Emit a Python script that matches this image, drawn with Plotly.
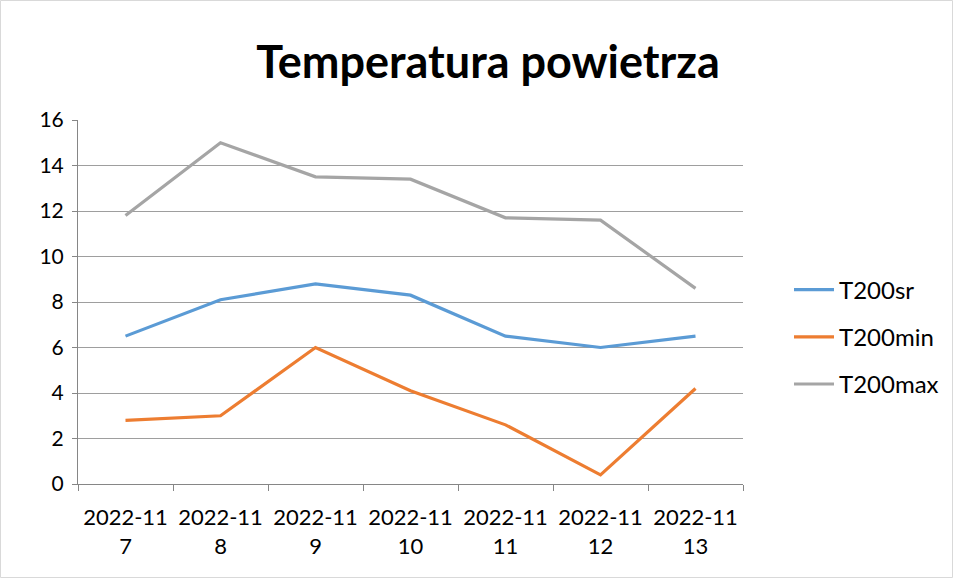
import plotly.graph_objects as go

dates = ["2022-11<br>7", "2022-11<br>8", "2022-11<br>9", "2022-11<br>10",
         "2022-11<br>11", "2022-11<br>12", "2022-11<br>13"]
t200sr = [6.5, 8.1, 8.8, 8.3, 6.5, 6.0, 6.5]
t200min = [2.8, 3.0, 6.0, 4.1, 2.6, 0.4, 4.2]
t200max = [11.8, 15.0, 13.5, 13.4, 11.7, 11.6, 8.6]
y_ticks = [0, 2, 4, 6, 8, 10, 12, 14, 16]

FONT = "Lato, 'Noto Sans', sans-serif"

fig = go.Figure()
series = [("T200sr", t200sr, "#5B9BD5"),
          ("T200min", t200min, "#ED7D31"),
          ("T200max", t200max, "#A5A5A5")]
for name, vals, col in series:
    fig.add_trace(go.Scatter(x=dates, y=vals, name=name, mode="lines",
                             legendgroup=name,
                             line=dict(color=col, width=3.2)))

W, H = 958, 578
L, R, T, B = 78, 215, 120, 94
pw, ph = W - L - R, H - T - B

fig.update_layout(
    width=W, height=H,
    margin=dict(l=L, r=R, t=T, b=B),
    paper_bgcolor="white", plot_bgcolor="white",
    font=dict(family=FONT, size=22, color="#000000"),
    title=dict(text="<b>Temperatura powietrza</b>", x=488 / W, xanchor="center",
               y=1 - 62 / H, yanchor="middle",
               font=dict(family=FONT, size=45, color="#000000")),
    showlegend=True,
    legend=dict(x=1 + (789 - (W - R)) / pw, xanchor="left",
                y=(H - B - 337) / ph, yanchor="middle",
                font=dict(family=FONT, size=24, color="#000000"),
                tracegroupgap=13, itemwidth=40,
                bgcolor="rgba(0,0,0,0)"),
    xaxis=dict(type="category", tickson="boundaries", ticks="outside",
               ticklen=6, tickcolor="#868686", showline=True, linecolor="#868686",
               linewidth=1, showgrid=False, zeroline=False,
               ticklabelstandoff=14, tickangle=0, automargin=False,
               tickfont=dict(family=FONT, size=22), range=[-0.5, 6.5]),
    yaxis=dict(range=[0, 16], tickvals=y_ticks, ticks="outside", ticklen=5,
               tickcolor="#868686", showline=True, linecolor="#868686",
               linewidth=1, showgrid=True, gridcolor="#9E9E9E", gridwidth=1,
               zeroline=False, ticklabelstandoff=4, automargin=False,
               tickfont=dict(family=FONT, size=21)),
)

fig.add_shape(type="rect", xref="paper", yref="paper",
              x0=(0.5 - L) / pw, x1=(952.5 - L) / pw,
              y0=-(H - 0.5 - T - ph) / ph, y1=1 + (T - 0.5) / ph,
              line=dict(color="#D9D9D9", width=1), layer="below")

fig.write_html("out.html", config={"displayModeBar": False},
               post_script="document.body.style.margin='0';document.body.style.padding='0';")
